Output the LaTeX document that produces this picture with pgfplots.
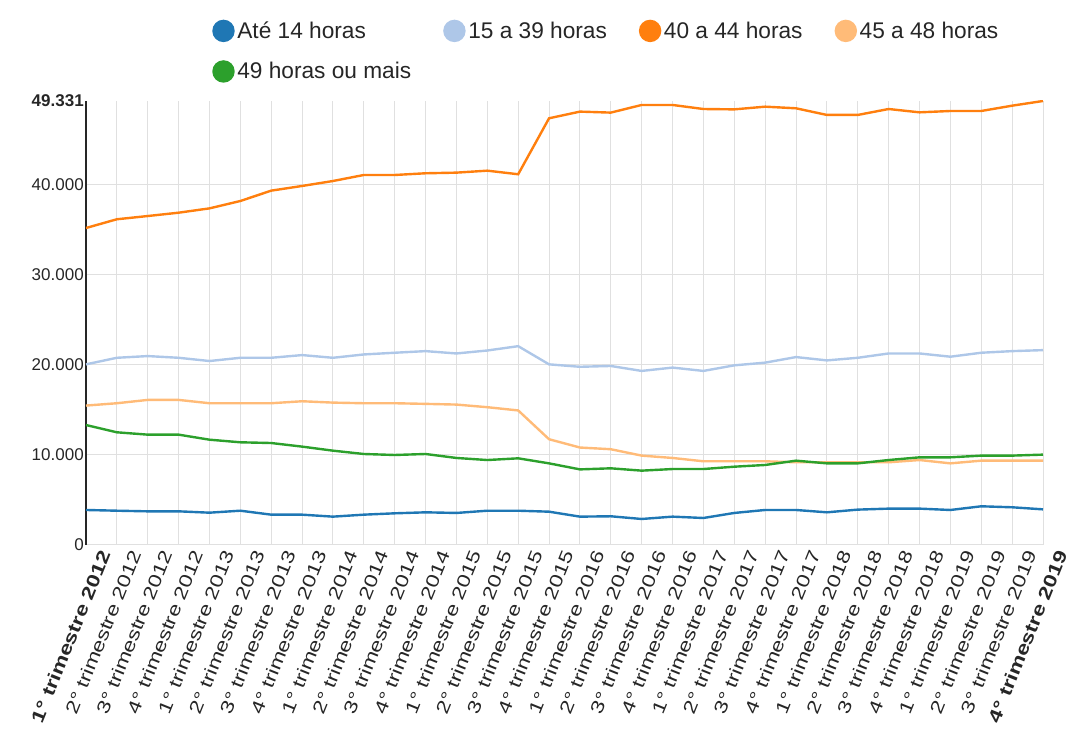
\documentclass[border=0pt]{standalone}
\usepackage{fontspec}
\setmainfont{Liberation Sans}
\newfontfamily\xlabfont[FakeStretch=1.27]{Liberation Sans}
\usepackage{pgfplots}
\usepackage{pgfplotstable}
\pgfplotsset{compat=1.18}
\definecolor{cA}{HTML}{1F77B4}
\definecolor{cB}{HTML}{AEC7E8}
\definecolor{cC}{HTML}{FF7F0E}
\definecolor{cD}{HTML}{FFBB78}
\definecolor{cE}{HTML}{2CA02C}
\pgfplotstableread{
x a b c d e
0 3890 20070 35220 15490 13330
1 3810 20800 36190 15750 12520
2 3740 20990 36550 16120 12260
3 3740 20800 36920 16120 12260
4 3590 20440 37400 15750 11700
5 3810 20800 38220 15750 11410
6 3370 20800 39370 15750 11330
7 3370 21100 39890 15970 10930
8 3150 20800 40440 15820 10480
9 3370 21170 41110 15750 10110
10 3520 21360 41110 15750 10000
11 3630 21540 41300 15680 10110
12 3560 21280 41370 15600 9670
13 3810 21610 41590 15310 9440
14 3810 22090 41190 14950 9630
15 3700 20070 47410 11750 9070
16 3150 19800 48150 10830 8400
17 3190 19890 48040 10640 8520
18 2890 19340 48890 9930 8260
19 3150 19710 48890 9670 8440
20 3000 19340 48440 9300 8440
21 3560 19960 48400 9300 8700
22 3890 20260 48700 9300 8890
23 3890 20880 48520 9190 9370
24 3630 20510 47780 9190 9070
25 3930 20800 47780 9190 9070
26 4040 21280 48440 9190 9440
27 4040 21280 48070 9440 9740
28 3890 20920 48220 9070 9740
29 4300 21360 48220 9370 9930
30 4190 21540 48810 9370 9930
31 3960 21650 49331 9370 10040
}\datatable
\begin{document}
\begin{tikzpicture}
\begin{axis}[
  at={(0,0)}, anchor=south west, scale only axis,
  width=717.75pt, height=333pt,
  xmin=0, xmax=31, ymin=0, ymax=49331,
  scaled y ticks=false,
  axis lines*=left,
  x axis line style={draw=black!12, line width=0.75pt},
  y axis line style={draw=black!85, line width=1.2pt},
  xtick={0,...,31},
  xticklabels={\textbf{1° trimestre 2012},2° trimestre 2012,3° trimestre 2012,4° trimestre 2012,
    1° trimestre 2013,2° trimestre 2013,3° trimestre 2013,4° trimestre 2013,
    1° trimestre 2014,2° trimestre 2014,3° trimestre 2014,4° trimestre 2014,
    1° trimestre 2015,2° trimestre 2015,3° trimestre 2015,4° trimestre 2015,
    1° trimestre 2016,2° trimestre 2016,3° trimestre 2016,4° trimestre 2016,
    1° trimestre 2017,2° trimestre 2017,3° trimestre 2017,4° trimestre 2017,
    1° trimestre 2018,2° trimestre 2018,3° trimestre 2018,4° trimestre 2018,
    1° trimestre 2019,2° trimestre 2019,3° trimestre 2019,\textbf{4° trimestre 2019}},
  ytick={0,10000,20000,30000,40000},
  yticklabels={0,10.000,20.000,30.000,40.000},
  extra y ticks={49331},
  extra y tick labels={\textbf{49.331}},
  extra y tick style={grid=none},
  grid=major,
  major grid style={draw=black!12, line width=0.75pt},
  major tick length=0pt,
  yticklabel style={font=\fontsize{12.75}{15}\selectfont, text=black!85, inner sep=1.5pt},
  xticklabel style={font=\xlabfont\fontsize{13.5}{16}\selectfont, xshift=15pt, yshift=-3pt, rotate=68, anchor=east, text=black!85, inner sep=2pt},
  legend columns=4,
  legend style={draw=none, fill=none, at={(axis description cs:0.1317,1.1855)}, anchor=north west,
    font=\fontsize{17}{19}\selectfont, text=black!85, inner sep=0pt, row sep=12.5pt,
    /tikz/every even column/.append style={column sep=22pt}},
  legend cell align=left,
  legend image code/.code={\fill[#1] (7.5pt,0pt) circle (7.5pt);},
  every axis plot/.append style={line width=1.8pt},
]
\addplot[color=cA] table[x=x, y=a] {\datatable};
\addlegendentry{Até 14 horas}
\addplot[color=cB] table[x=x, y=b] {\datatable};
\addlegendentry{15 a 39 horas}
\addplot[color=cC] table[x=x, y=c] {\datatable};
\addlegendentry{40 a 44 horas}
\addplot[color=cD] table[x=x, y=d] {\datatable};
\addlegendentry{45 a 48 horas}
\addplot[color=cE] table[x=x, y=e] {\datatable};
\addlegendentry{49 horas ou mais}
\end{axis}
\pgfresetboundingbox
\path[use as bounding box] (-64.5pt,-141.75pt) rectangle (739.5pt,408.75pt);
\end{tikzpicture}
\end{document}
